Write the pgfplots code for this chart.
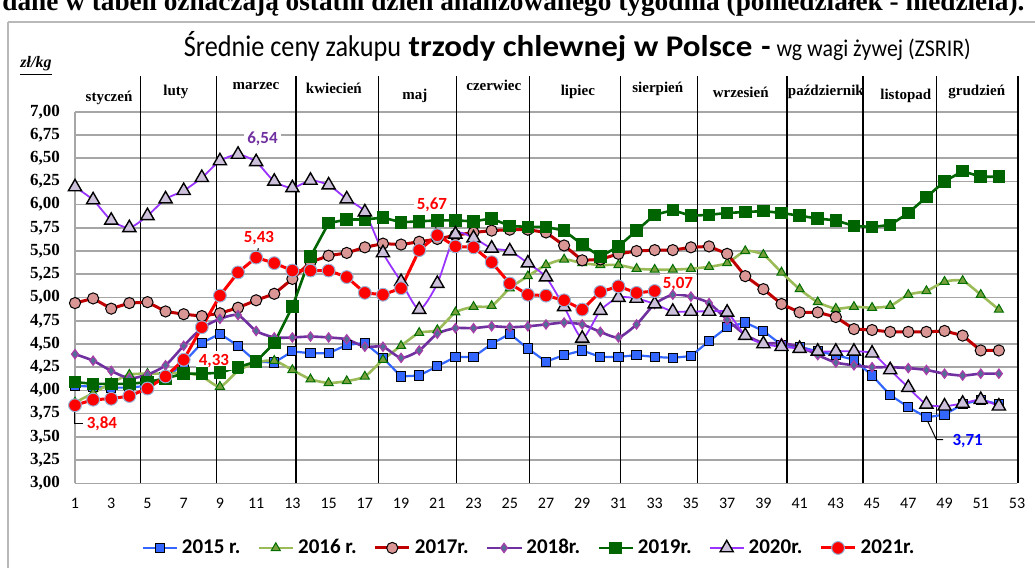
\documentclass[border=0pt]{standalone}
\usepackage{pgfplots}
\pgfplotsset{compat=1.18}
\usepackage{pgfplotstable}
\usepackage{graphicx}
\usepackage{fontspec}
\setmainfont{Liberation Serif}
\newfontfamily\carl{Carlito}

\definecolor{gridgray}{RGB}{166,166,166}
\definecolor{c15}{RGB}{51,102,255}
\definecolor{c16l}{RGB}{155,187,89}
\definecolor{c16f}{RGB}{119,160,60}
\definecolor{c16d}{RGB}{0,110,0}
\definecolor{c17l}{RGB}{192,0,0}
\definecolor{c17f}{RGB}{217,150,148}
\definecolor{c18l}{RGB}{112,48,160}
\definecolor{c18f}{RGB}{80,110,150}
\definecolor{c18d}{RGB}{170,60,170}
\definecolor{c19}{RGB}{0,100,0}
\definecolor{c20l}{RGB}{153,51,255}
\definecolor{c20f}{RGB}{204,192,218}
\definecolor{c21}{RGB}{255,0,0}
\definecolor{c21d}{RGB}{149,179,215}
\definecolor{lblpurple}{RGB}{112,48,160}
\definecolor{lblblue}{RGB}{0,0,255}

\pgfplotstableread{
w  a    b    c    d    e    f    g
1  4.05 3.87 4.94 4.39 4.09 6.19 3.84
2  4.04 3.97 4.99 4.32 4.07 6.05 3.90
3  4.03 4.08 4.88 4.21 4.07 5.83 3.91
4  4.03 4.17 4.94 4.13 4.07 5.75 3.94
5  4.05 4.18 4.95 4.17 4.09 5.88 4.02
6  4.12 4.18 4.85 4.27 4.13 6.06 4.15
7  4.30 4.19 4.82 4.48 4.18 6.15 4.33
8  4.51 4.15 4.80 4.67 4.18 6.29 4.68
9  4.61 4.04 4.83 4.77 4.19 6.47 5.02
10 4.48 4.21 4.89 4.81 4.25 6.54 5.27
11 4.31 4.30 4.97 4.64 4.31 6.46 5.43
12 4.30 4.32 5.04 4.57 4.51 6.25 5.37
13 4.42 4.22 5.20 4.57 4.90 6.18 5.29
14 4.40 4.12 5.38 4.58 5.44 6.26 5.29
15 4.40 4.08 5.45 4.57 5.80 6.21 5.29
16 4.49 4.10 5.48 4.55 5.84 6.06 5.22
17 4.51 4.15 5.54 4.47 5.84 5.92 5.05
18 4.35 4.33 5.58 4.47 5.86 5.48 5.03
19 4.15 4.48 5.57 4.35 5.81 5.17 5.10
20 4.16 4.62 5.60 4.43 5.82 4.87 5.51
21 4.26 4.65 5.63 4.61 5.83 5.15 5.67
22 4.36 4.84 5.67 4.67 5.83 5.68 5.55
23 4.36 4.90 5.70 4.67 5.82 5.64 5.54
24 4.50 4.91 5.72 4.69 5.85 5.53 5.38
25 4.61 5.10 5.73 4.68 5.77 5.50 5.15
26 4.45 5.23 5.73 4.69 5.76 5.37 5.03
27 4.31 5.35 5.70 4.71 5.76 5.22 5.02
28 4.38 5.41 5.56 4.73 5.72 4.90 4.97
29 4.43 5.37 5.40 4.71 5.57 4.56 4.87
30 4.36 5.35 5.41 4.63 5.44 4.86 5.06
31 4.36 5.35 5.47 4.57 5.55 5.00 5.12
32 4.38 5.31 5.50 4.71 5.72 4.99 5.05
33 4.36 5.30 5.51 4.93 5.89 4.93 5.07
34 4.35 5.30 5.51 5.03 5.94 4.85 nan
35 4.37 5.31 5.54 5.01 5.88 4.85 nan
36 4.53 5.33 5.55 4.94 5.89 4.85 nan
37 4.68 5.37 5.47 4.76 5.91 4.84 nan
38 4.73 5.50 5.23 4.60 5.92 4.59 nan
39 4.64 5.46 5.09 4.51 5.93 4.50 nan
40 4.49 5.27 4.93 4.51 5.91 4.47 nan
41 4.47 5.09 4.84 4.47 5.88 4.45 nan
42 4.42 4.95 4.84 4.38 5.85 4.42 nan
43 4.38 4.88 4.79 4.30 5.83 4.42 nan
44 4.33 4.90 4.66 4.27 5.77 4.42 nan
45 4.16 4.89 4.65 4.25 5.76 4.40 nan
46 3.95 4.91 4.63 4.25 5.78 4.22 nan
47 3.82 5.03 4.63 4.24 5.91 4.03 nan
48 3.71 5.07 4.63 4.22 6.08 3.85 nan
49 3.74 5.17 4.64 4.18 6.25 3.83 nan
50 3.85 5.18 4.59 4.16 6.36 3.86 nan
51 3.90 5.03 4.43 4.18 6.30 3.90 nan
52 3.85 4.87 4.43 4.18 6.30 3.83 nan
}\data

\begin{document}
\begin{tikzpicture}
\begin{axis}[
  at={(0pt,0pt)}, anchor=south west,
  scale only axis, width=471pt, height=185.8pt,
  xmin=1, xmax=53, ymin=3, ymax=7,
  xtick={1,3,...,53},
  ytick={3,3.25,...,7},
  axis lines*=left,
  axis line style={draw=gridgray, line width=0.8pt},
  ymajorgrids, major grid style={draw=gridgray, line width=0.8pt},
  major tick length=0pt,
  clip=false,
  yticklabel style={font=\bfseries\fontsize{8.5}{10}\selectfont, xshift=-4pt,
    /pgf/number format/.cd, fixed, fixed zerofill, precision=2, use comma, assume math mode=true},
  xticklabel style={font=\carl\fontsize{8}{9}\selectfont, yshift=-4pt,
    /pgf/number format/assume math mode=true},
  legend style={at={(0.483,-0.174)}, anchor=center, draw=none, fill=none,
    legend columns=7, font=\carl\bfseries\fontsize{10.5}{12}\selectfont,
    /tikz/every even column/.append style={column sep=6.5pt}},
  legend cell align=left,
]
% month separators
\foreach \s in {4.6,8.8,13.2,17.75,22.05,26.1,31.1,35.35,40.3,44.5,48.55,53.05} {
  \edef\tmp{\noexpand\draw[black, line width=0.6pt] (axis cs:\s,3) -- (axis cs:\s,7.38);}\tmp
}
\addplot[c15, line width=1.1pt, mark=square*, mark size=2.3pt, mark options={fill=c15, draw=black, line width=0.5pt}] table[x=w,y=a]{\data};
\addlegendentry{2015 r.}
\addplot[c16l, line width=1.3pt, smooth, tension=0.4, mark=triangle*, mark size=2.6pt, mark options={fill=c16f, draw=c16d, line width=0.5pt}] table[x=w,y=b]{\data};
\addlegendentry{2016 r.}
\addplot[c17l, line width=1.5pt, mark=*, mark size=2.8pt, mark options={fill=c17f, draw=black, line width=0.5pt}] table[x=w,y=c]{\data};
\addlegendentry{2017r.}
\addplot[c18l, line width=1.3pt, smooth, tension=0.4, mark=diamond*, mark size=2.3pt, mark options={fill=c18f, draw=c18d, line width=0.6pt}] table[x=w,y=d]{\data};
\addlegendentry{2018r.}
\addplot[c19, line width=1.3pt, mark=square*, mark size=2.5pt, mark options={fill=c19, draw=c19}] table[x=w,y=e]{\data};
\addlegendentry{2019r.}
\addplot[c20l, line width=0.9pt, smooth, tension=0.4, mark=triangle*, mark size=3.8pt, mark options={fill=c20f, draw=black, line width=0.7pt}] table[x=w,y=f]{\data};
\addlegendentry{2020r.}
\addplot[c21, line width=1.5pt, mark=*, mark size=3.2pt, mark options={fill=c21, draw=c21d, line width=0.5pt}] table[x=w,y=g]{\data};
\addlegendentry{2021r.}

% month labels
\begin{scope}[every node/.style={font=\bfseries\fontsize{7.5}{9}\selectfont, inner sep=0}]
\node at (axis cs:2.88,7.15) {styczeń};
\node at (axis cs:6.57,7.21) {luty};
\node at (axis cs:10.99,7.28) {marzec};
\node at (axis cs:15.29,7.25) {kwiecień};
\node at (axis cs:19.76,7.17) {maj};
\node at (axis cs:24.12,7.28) {czerwiec};
\node at (axis cs:28.76,7.21) {lipiec};
\node at (axis cs:33.17,7.25) {sierpień};
\node at (axis cs:37.75,7.21) {wrzesień};
\node at (axis cs:42.45,7.21) {październik};
\node at (axis cs:46.86,7.17) {listopad};
\node at (axis cs:50.78,7.21) {grudzień};
\end{scope}

% data labels
\begin{scope}[every node/.style={font=\carl\bfseries\fontsize{8.5}{10}\selectfont, inner sep=1.5pt}]
\node[fill=white, text=lblpurple] at (axis cs:11.35,6.706) {6,54};
\draw[black, line width=0.5pt] (axis cs:11.03,5.45) -- (axis cs:11.12,5.53);
\node[text=c21] at (axis cs:11.15,5.644) {5,43};
\draw[black, line width=0.5pt] (axis cs:20.81,5.87) -- (axis cs:20.96,5.71);
\node[fill=white, text=c21] at (axis cs:20.70,5.996) {5,67};
\node[fill=white, text=c21] at (axis cs:34.28,5.145) {5,07};
\node[fill=white, text=c21] at (axis cs:8.67,4.32) {4,33};
\draw[black, line width=0.5pt] (axis cs:1,3.77) -- (axis cs:1,3.64) -- (axis cs:1.42,3.64);
\node[text=c21] at (axis cs:2.49,3.64) {3,84};
\draw[black, line width=0.5pt] (axis cs:48.04,3.68) -- (axis cs:48.55,3.47) -- (axis cs:48.92,3.47);
\node[text=lblblue] at (axis cs:50.28,3.455) {3,71};
\end{scope}
\end{axis}

\begin{scope}[x=0.5pt, y=-0.5pt, shift={(-37.5pt,241.65pt)}]
\draw[gray!55, line width=0.6pt] (8,22) -- (1050,22);
\draw[gray!55, line width=0.6pt] (8,22) -- (8,580);
\node[anchor=base west, inner sep=0] at (2,11) {\resizebox{511pt}{!}{\bfseries dane w tabeli oznaczają ostatni dzień analizowanego tygodnia (poniedziałek - niedziela).}};
\node[anchor=base west, inner sep=0] at (183.5,57) {\carl\fontsize{15}{18}\selectfont\scalebox{0.875}[1]{Średnie ceny zakupu}\hspace{0.25em}\scalebox{1.1}[1]{\bfseries trzody chlewnej w Polsce}\hspace{0.3em}{\bfseries -}\hspace{0.2em}\scalebox{0.91}[1]{\fontsize{12}{14}\selectfont wg wagi żywej (ZSRIR)}};
\node[font=\bfseries\itshape\fontsize{8}{9}\selectfont, inner sep=0] at (36,66) {\underline{zł/kg}};
\end{scope}
\pgfresetboundingbox
\path[use as bounding box] (-37.5pt,-42.35pt) rectangle (480pt,241.65pt);
\end{tikzpicture}
\end{document}
